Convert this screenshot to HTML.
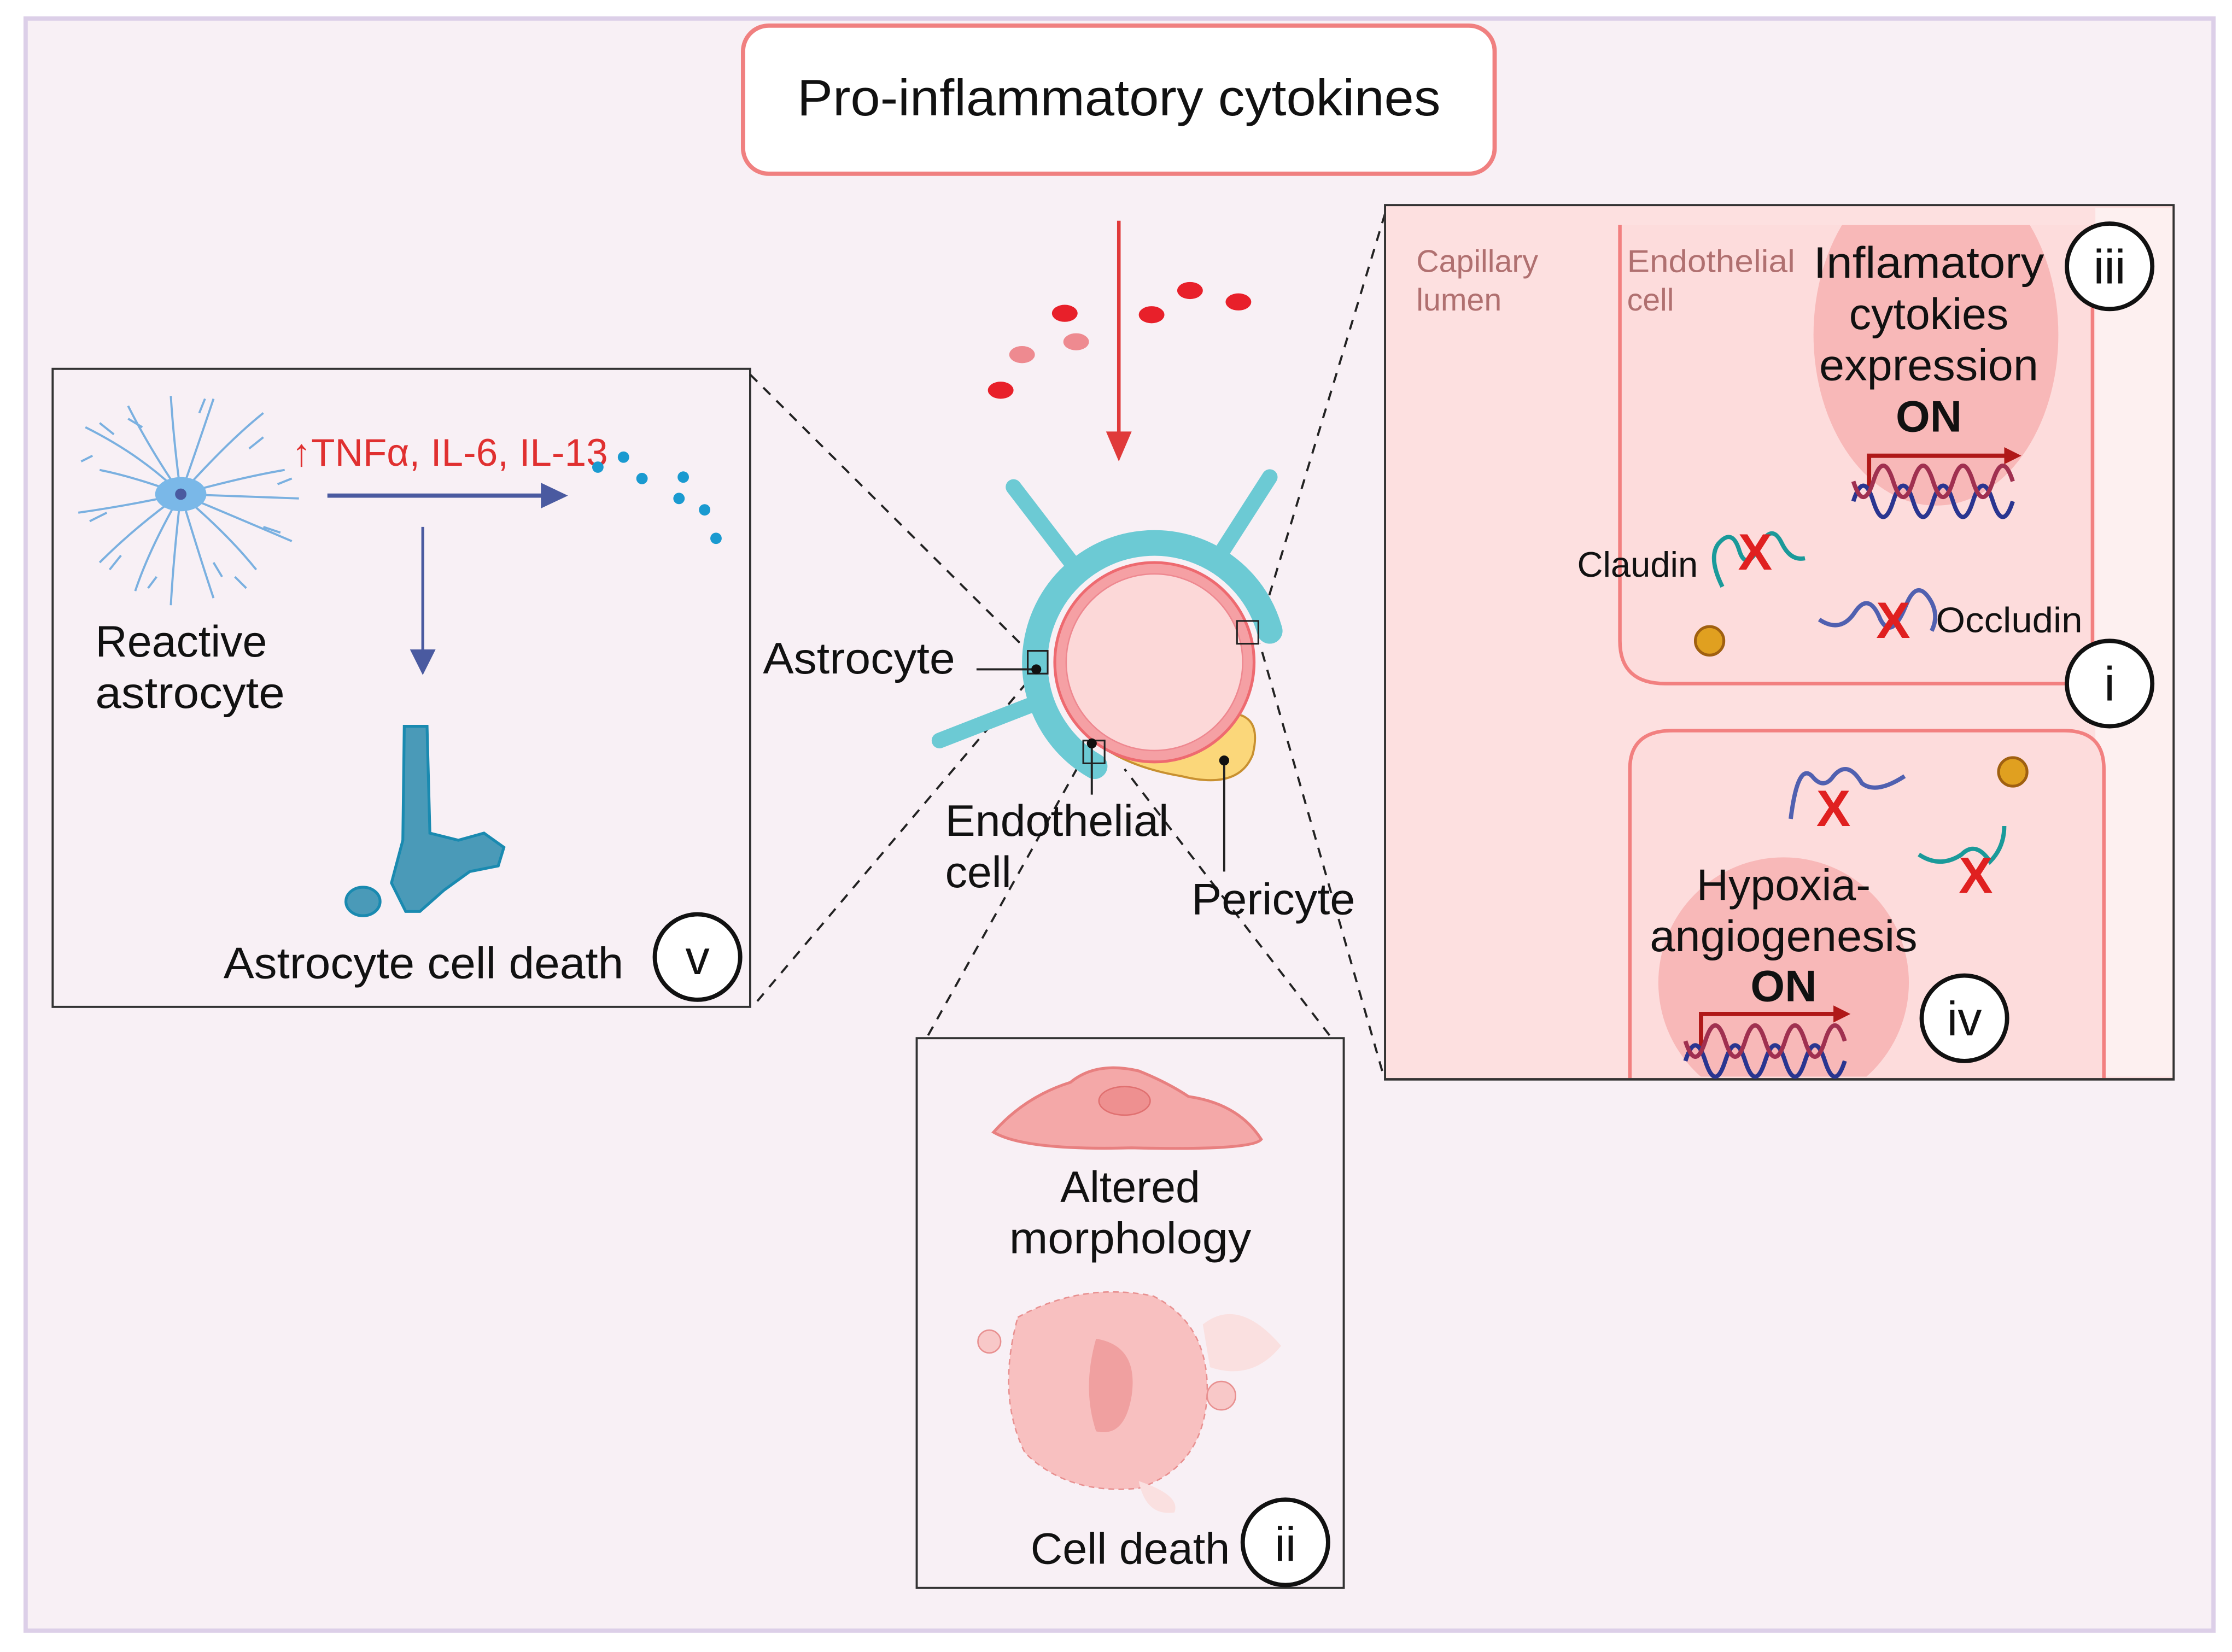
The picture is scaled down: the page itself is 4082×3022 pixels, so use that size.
<!DOCTYPE html>
<html><head><meta charset="utf-8"><style>
html,body{margin:0;padding:0;background:#fff;}
svg{display:block;}
text{font-family:"Liberation Sans",sans-serif;}
</style></head><body>
<svg width="4082" height="3022" viewBox="0 0 1568 1160" preserveAspectRatio="none" xmlns="http://www.w3.org/2000/svg">
<defs>
<clipPath id="c1"><path d="M1138,158 L1138,450 Q1138,480 1170,480 L1470,480 L1470,158z"/></clipPath>
<clipPath id="c2"><path d="M1145,756 L1145,540 Q1145,513 1175,513 L1450,513 Q1478,513 1478,540 L1478,756z"/></clipPath>
</defs>
<rect x="0" y="0" width="1568" height="1160" fill="#fff"/>
<rect x="18" y="13" width="1537" height="1132" fill="#f8f0f5" stroke="#dccfe8" stroke-width="3"/>
<rect x="522" y="18" width="528" height="104" rx="18" fill="#fff" stroke="#f08080" stroke-width="3"/>
<text x="786" y="81" font-size="36" text-anchor="middle" fill="#111" textLength="452" lengthAdjust="spacingAndGlyphs">Pro-inflammatory cytokines</text>
<line x1="786" y1="155" x2="786" y2="305" stroke="#e03a3a" stroke-width="2.5"/>
<path d="M777,303 L795,303 L786,324z" fill="#e03a3a"/>
<g fill="#e8202a">
<ellipse cx="748" cy="220" rx="9" ry="6"/><ellipse cx="703" cy="274" rx="9" ry="6"/>
<ellipse cx="809" cy="221" rx="9" ry="6"/><ellipse cx="836" cy="204" rx="9" ry="6"/><ellipse cx="870" cy="212" rx="9" ry="6"/>
</g>
<g fill="#ee8a90"><ellipse cx="756" cy="240" rx="9" ry="6"/><ellipse cx="718" cy="249" rx="9" ry="6"/></g>
<rect x="37" y="259" width="490" height="448" fill="none" stroke="#333" stroke-width="1.5"/>
<g stroke="#7ab0e0" stroke-width="1.5" fill="none">
<path d="M127,347 Q100,320 60,300 M127,347 Q95,335 70,330 M127,347 Q90,355 55,360 M127,347 Q95,370 70,395 M127,347 Q105,385 95,415 M127,347 Q122,390 120,425 M127,347 Q140,390 150,420 M127,347 Q160,375 180,400 M127,347 Q170,365 205,380 M127,347 Q170,335 200,330 M127,347 Q160,310 185,290 M127,347 Q140,310 150,280 M127,347 Q122,310 120,278 M127,347 Q105,315 90,285 M127,347 L210,350"/>
<path d="M80,305 l-10,-8 M75,360 l-12,6 M85,390 l-8,10 M165,405 l8,8 M185,370 l12,4 M175,315 l10,-8 M140,290 l4,-10 M100,300 l-10,-6 M65,320 l-8,4 M110,405 l-6,8 M150,395 l6,10 M195,340 l10,-4"/>
</g>
<ellipse cx="127" cy="347" rx="18" ry="12" fill="#7ab8e8"/>
<circle cx="127" cy="347" r="4" fill="#4a5aa0"/>
<text x="67" y="461" font-size="31" fill="#111">Reactive</text>
<text x="67" y="497" font-size="31" fill="#111" textLength="133" lengthAdjust="spacingAndGlyphs">astrocyte</text>
<text x="205" y="327" font-size="27" fill="#e03030" textLength="222" lengthAdjust="spacingAndGlyphs">↑TNFα, IL-6, IL-13</text>
<line x1="230" y1="348" x2="382" y2="348" stroke="#4a5aa0" stroke-width="3"/>
<path d="M380,339 L399,348 L380,357z" fill="#4a5aa0"/>
<g fill="#1a9ad0"><circle cx="420" cy="328" r="4"/><circle cx="438" cy="321" r="4"/><circle cx="451" cy="336" r="4"/><circle cx="480" cy="335" r="4"/><circle cx="477" cy="350" r="4"/><circle cx="495" cy="358" r="4"/><circle cx="503" cy="378" r="4"/></g>
<line x1="297" y1="370" x2="297" y2="458" stroke="#4a5aa0" stroke-width="2"/>
<path d="M288,456 L306,456 L297,474z" fill="#4a5aa0"/>
<path d="M284,510 L300,510 L302,585 L322,590 L340,585 L354,595 L350,608 L330,612 L312,625 L295,640 L285,640 L275,620 L283,590z" fill="#4a9ab8" stroke="#1a8ab0" stroke-width="2"/>
<ellipse cx="255" cy="633" rx="12" ry="10" fill="#4a9ab8" stroke="#1a8ab0" stroke-width="2"/>
<text x="157" y="687" font-size="31" fill="#111" textLength="281" lengthAdjust="spacingAndGlyphs">Astrocyte cell death</text>
<circle cx="490" cy="672" r="30" fill="#fff" stroke="#111" stroke-width="3"/>
<text x="490" y="684" font-size="34" text-anchor="middle" fill="#111">v</text>
<g stroke="#222" stroke-width="1.5" stroke-dasharray="7,6" fill="none">
<line x1="527" y1="263" x2="725" y2="460"/><line x1="532" y1="703" x2="725" y2="475"/>
<line x1="652" y1="727" x2="762" y2="530"/><line x1="934" y1="727" x2="790" y2="540"/>
<line x1="973" y1="150" x2="885" y2="440"/><line x1="971" y1="752" x2="885" y2="452"/>
</g>
<g>
<path d="M712,342 L755,398 M892,335 L858,388 M660,520 L732,492" stroke="#6ccad4" stroke-width="11" stroke-linecap="round" fill="none"/>
<path d="M769,538 A84,84 0 1 1 892,443" fill="none" stroke="#6ccad4" stroke-width="18" stroke-linecap="round"/>
<path d="M840,505 Q890,490 880,530 Q870,555 830,545 Q800,540 780,528z" fill="#fbd77a" stroke="#c89030" stroke-width="1.5"/>
<circle cx="811" cy="465" r="70" fill="#f5a0a4" stroke="#ee6a70" stroke-width="2"/>
<circle cx="811" cy="465" r="62" fill="#fcd8d8" stroke="#ee8890" stroke-width="1"/>
<rect x="722" y="457" width="14" height="16" fill="none" stroke="#222" stroke-width="1.2"/>
<line x1="686" y1="470" x2="728" y2="470" stroke="#222" stroke-width="1.5"/><circle cx="728" cy="470" r="3.5" fill="#111"/>
<rect x="869" y="436" width="15" height="16" fill="none" stroke="#222" stroke-width="1.2"/>
<rect x="761" y="520" width="15" height="16" fill="none" stroke="#222" stroke-width="1.2"/>
<line x1="767" y1="522" x2="767" y2="558" stroke="#222" stroke-width="1.5"/><circle cx="767" cy="522" r="3.5" fill="#111"/>
<line x1="860" y1="534" x2="860" y2="612" stroke="#222" stroke-width="1.5"/><circle cx="860" cy="534" r="3.5" fill="#111"/>
</g>
<text x="536" y="473" font-size="31" fill="#111" textLength="135" lengthAdjust="spacingAndGlyphs">Astrocyte</text>
<text x="664" y="587" font-size="31" fill="#111" textLength="157" lengthAdjust="spacingAndGlyphs">Endothelial</text>
<text x="664" y="623" font-size="31" fill="#111">cell</text>
<text x="837" y="642" font-size="31" fill="#111" textLength="115" lengthAdjust="spacingAndGlyphs">Pericyte</text>
<rect x="644" y="729" width="300" height="386" fill="none" stroke="#333" stroke-width="1.5"/>
<path d="M698,795 Q720,770 752,760 Q770,745 800,752 Q820,760 835,770 Q870,775 886,800 Q880,808 795,806 Q720,808 698,795z" fill="#f4a8a8" stroke="#e88080" stroke-width="2"/>
<ellipse cx="790" cy="773" rx="18" ry="10" fill="#ee9090" stroke="#e07070"/>
<text x="794" y="844" font-size="31" text-anchor="middle" fill="#111">Altered</text>
<text x="794" y="880" font-size="31" text-anchor="middle" fill="#111" textLength="170" lengthAdjust="spacingAndGlyphs">morphology</text>
<path d="M715,925 Q760,900 810,910 Q850,930 848,980 Q845,1030 800,1045 Q750,1050 720,1020 Q700,980 715,925z" fill="#f8c0c0" stroke="#e89090" stroke-dasharray="4,3"/>
<path d="M770,940 Q800,945 795,980 Q790,1010 770,1005 Q760,975 770,940z" fill="#f0a0a0"/>
<ellipse cx="858" cy="980" rx="10" ry="10" fill="#f8c8c8" stroke="#e89090"/>
<ellipse cx="695" cy="942" rx="8" ry="8" fill="#f8c8c8" stroke="#e89090"/>
<path d="M845,930 Q870,910 900,945 Q880,970 850,960z" fill="#fae0e0"/>
<path d="M800,1040 Q830,1050 825,1062 Q805,1065 800,1040z" fill="#fae0e0"/>
<text x="724" y="1098" font-size="31" fill="#111" textLength="140" lengthAdjust="spacingAndGlyphs">Cell death</text>
<circle cx="903" cy="1083" r="30" fill="#fff" stroke="#111" stroke-width="3"/>
<text x="903" y="1096" font-size="34" text-anchor="middle" fill="#111">ii</text>
<rect x="973" y="144" width="554" height="614" fill="#fde0e0" stroke="#333" stroke-width="1.5"/>
<rect x="1472" y="146" width="54" height="610" fill="#fdf0f0"/>
<path d="M1138,158 L1138,450 Q1138,480 1170,480 L1470,480 L1470,158" fill="#fddcdc" stroke="#f28080" stroke-width="2.5"/>
<ellipse cx="1360" cy="235" rx="86" ry="120" fill="#f8b8b8" clip-path="url(#c1)"/>
<path d="M1145,757 L1145,540 Q1145,513 1175,513 L1450,513 Q1478,513 1478,540 L1478,757" fill="#fddcdc" stroke="#f28080" stroke-width="2.5"/>
<ellipse cx="1253" cy="690" rx="88" ry="88" fill="#f8b8b8" clip-path="url(#c2)"/>
<rect x="973" y="757" width="554" height="1.5" fill="#333"/>
<text x="995" y="191" font-size="22" fill="#b07070">Capillary</text>
<text x="995" y="218" font-size="22" fill="#b07070">lumen</text>
<text x="1143" y="191" font-size="22" fill="#b07070" textLength="118" lengthAdjust="spacingAndGlyphs">Endothelial</text>
<text x="1143" y="218" font-size="22" fill="#b07070">cell</text>
<g font-size="31" fill="#111" text-anchor="middle">
<text x="1355" y="195" textLength="162" lengthAdjust="spacingAndGlyphs">Inflamatory</text><text x="1355" y="231">cytokies</text><text x="1355" y="267" textLength="154" lengthAdjust="spacingAndGlyphs">expression</text>
<text x="1355" y="303" font-weight="bold">ON</text>
<text x="1253" y="632">Hypoxia-</text><text x="1253" y="668" textLength="188" lengthAdjust="spacingAndGlyphs">angiogenesis</text>
<text x="1253" y="703" font-weight="bold">ON</text>
</g>
<g stroke="#b01818" stroke-width="3" fill="none"><path d="M1313,345 L1313,320 L1410,320"/><path d="M1195,738 L1195,712 L1290,712"/></g>
<path d="M1408,314 L1420,320 L1408,326z" fill="#b01818"/><path d="M1288,706 L1300,712 L1288,718z" fill="#b01818"/>
<g stroke="#2a3590" stroke-width="3" fill="none">
<path d="M1302,352 q7,-22 14,0 t14,0 t14,0 t14,0 t14,0 t14,0 t14,0 t14,0"/><path d="M1302,338 q7,22 14,0 t14,0 t14,0 t14,0 t14,0 t14,0 t14,0 t14,0" stroke="#a03050"/>
<path d="M1184,745 q7,-22 14,0 t14,0 t14,0 t14,0 t14,0 t14,0 t14,0 t14,0"/><path d="M1184,731 q7,22 14,0 t14,0 t14,0 t14,0 t14,0 t14,0 t14,0 t14,0" stroke="#a03050"/>
</g>
<text x="1108" y="405" font-size="25" fill="#111">Claudin</text>
<text x="1360" y="444" font-size="25" fill="#111" textLength="103" lengthAdjust="spacingAndGlyphs">Occludin</text>
<g fill="none" stroke-width="3">
<path d="M1210,412 q-10,-20 -3,-30 q10,-12 15,5 q5,15 15,-5 q8,-15 15,0 q6,12 16,10" stroke="#1a9a9a"/>
<path d="M1278,435 q15,10 25,-5 q10,-15 18,5 q8,15 18,-10 q8,-20 18,-2 q5,10 0,20" stroke="#5060b0"/>
<path d="M1258,575 q5,-40 15,-30 q8,10 15,0 q10,-12 20,5 q10,8 30,-5" stroke="#5060b0"/>
<path d="M1348,600 q15,10 30,0 q10,-10 20,5 q10,-10 10,-25" stroke="#1a9a9a"/>
</g>
<g font-size="36" font-weight="bold" fill="#e02020" text-anchor="middle">
<text x="1233" y="400">X</text><text x="1330" y="448">X</text><text x="1288" y="580">X</text><text x="1388" y="627">X</text>
</g>
<circle cx="1201" cy="450" r="10" fill="#e0a020" stroke="#a06010" stroke-width="2"/>
<circle cx="1414" cy="542" r="10" fill="#e0a020" stroke="#a06010" stroke-width="2"/>
<g fill="#fff" stroke="#111" stroke-width="3"><circle cx="1482" cy="187" r="30"/><circle cx="1482" cy="480" r="30"/><circle cx="1380" cy="715" r="30"/></g>
<g font-size="34" fill="#111" text-anchor="middle"><text x="1482" y="199">iii</text><text x="1482" y="492">i</text><text x="1380" y="727">iv</text></g>
</svg>
</body></html>
